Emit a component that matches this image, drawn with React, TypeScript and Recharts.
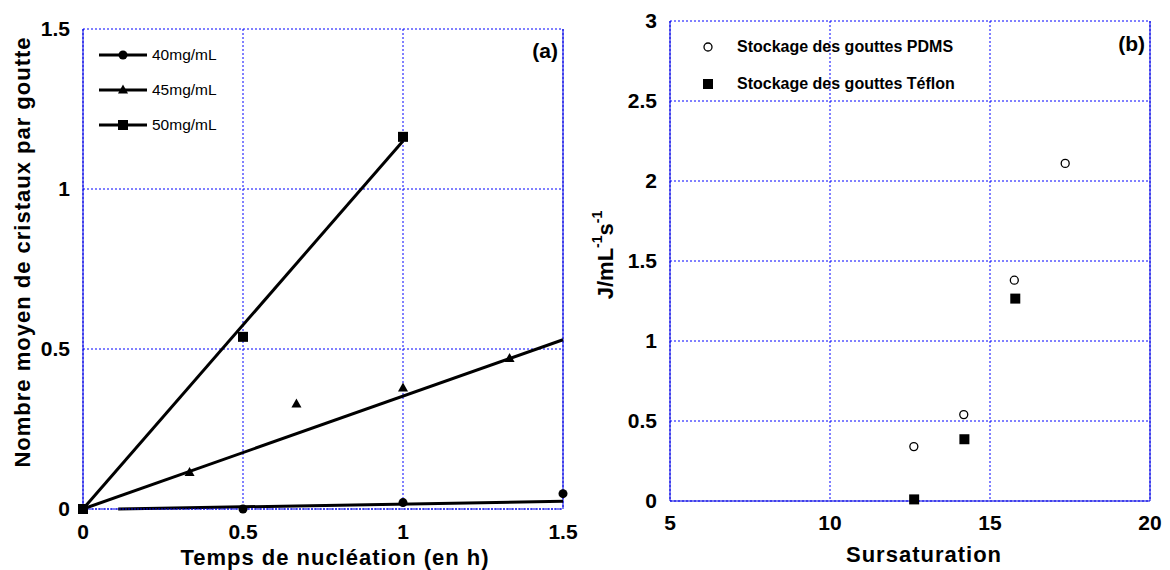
import React from 'react';
import {
  ComposedChart,
  ScatterChart,
  Scatter,
  Line,
  XAxis,
  YAxis,
  CartesianGrid,
  ReferenceLine,
  Legend,
  Label,
} from 'recharts';

const FONT = "Arial, 'Liberation Sans', Helvetica, sans-serif";
const GRID = '#0000ff';
const AXIS = '#0000dd';

// ---------- Panel (a) ----------
const timeTicks = [0, 0.5, 1, 1.5];
const countTicks = [0, 0.5, 1, 1.5];
const seriesNamesA = ['40mg/mL', '45mg/mL', '50mg/mL'];

const times40 = [0, 0.5, 1, 1.5];
const counts40 = [0, 0, 0.02, 0.048];
const times45 = [0, 0.333, 0.667, 1, 1.333];
const counts45 = [0, 0.114, 0.328, 0.378, 0.47];
const times50 = [0, 0.5, 1];
const counts50 = [0, 0.538, 1.163];

const fitTimes40 = [0.11, 1.5];
const fitCounts40 = [0, 0.024];
const fitTimes45 = [0, 1.5];
const fitCounts45 = [0, 0.529];
const fitTimes50 = [0, 1];
const fitCounts50 = [0, 1.15];

// ---------- Panel (b) ----------
const satTicks = [5, 10, 15, 20];
const rateTicks = [0, 0.5, 1, 1.5, 2, 2.5, 3];
const seriesNamesB = ['Stockage des gouttes PDMS', 'Stockage des gouttes Téflon'];

const satPDMS = [12.62, 14.18, 15.76, 17.35];
const ratePDMS = [0.34, 0.54, 1.38, 2.11];
const satTeflon = [12.63, 14.2, 15.79];
const rateTeflon = [0.01, 0.386, 1.265];

const zip = (xs: number[], ys: number[]) => xs.map((x, i) => ({ x, y: ys[i] }));

const pts40 = zip(times40, counts40);
const pts45 = zip(times45, counts45);
const pts50 = zip(times50, counts50);
const fit40 = zip(fitTimes40, fitCounts40);
const fit45 = zip(fitTimes45, fitCounts45);
const fit50 = zip(fitTimes50, fitCounts50);
const ptsPDMS = zip(satPDMS, ratePDMS);
const ptsTeflon = zip(satTeflon, rateTeflon);

// ---------- Marker renderers ----------
const drawCircle = (cx: number, cy: number) => <circle cx={cx} cy={cy} r={4.5} fill="#000" />;
const drawTriangle = (cx: number, cy: number) => (
  <polygon
    points={`${cx},${cy - 5.5} ${cx - 5},${cy + 3.5} ${cx + 5},${cy + 3.5}`}
    fill="#000"
  />
);
const drawSquare = (cx: number, cy: number) => (
  <rect x={cx - 5} y={cy - 5} width={10} height={10} fill="#000" />
);
const drawOpenCircle = (cx: number, cy: number) => (
  <circle cx={cx} cy={cy} r={4} fill="#fff" stroke="#000" strokeWidth={1.3} />
);

const markersA = [drawCircle, drawTriangle, drawSquare];
const markersB = [drawOpenCircle, drawSquare];

const shapeOf = (fn: (cx: number, cy: number) => React.ReactElement) => (props: any) =>
  fn(props.cx, props.cy);

// ---------- Legends ----------
const LegendA = () => (
  <div style={{ fontFamily: FONT, fontSize: 15.5, color: '#000' }}>
    {seriesNamesA.map((name, i) => (
      <div key={name} style={{ display: 'flex', alignItems: 'center', height: 35 }}>
        <svg width={48} height={14} style={{ display: 'block' }}>
          <line x1={0} y1={7} x2={48} y2={7} stroke="#000" strokeWidth={3} />
          {markersA[i](24, 7)}
        </svg>
        <span style={{ marginLeft: 5, whiteSpace: 'nowrap' }}>{name}</span>
      </div>
    ))}
  </div>
);

const LegendB = () => (
  <div style={{ fontFamily: FONT, fontSize: 16, fontWeight: 'bold', color: '#000' }}>
    {seriesNamesB.map((name, i) => (
      <div key={name} style={{ display: 'flex', alignItems: 'center', height: 37.6 }}>
        <svg width={16} height={14} style={{ display: 'block' }}>
          {markersB[i](8, 7)}
        </svg>
        <span style={{ marginLeft: 21, whiteSpace: 'nowrap' }}>{name}</span>
      </div>
    ))}
  </div>
);

// ---------- Axis titles ----------
const titleStyle = {
  fontFamily: FONT,
  fontSize: 22,
  fontWeight: 'bold' as const,
  fill: '#000',
};

const countTitle = (props: any) => {
  const vb = props.viewBox || { x: 0, y: 29, width: 83, height: 480 };
  const cx = vb.x + 22;
  const cy = vb.y + vb.height / 2 - 17;
  return (
    <text
      x={cx}
      y={cy}
      transform={`rotate(-90 ${cx} ${cy})`}
      textAnchor="middle"
      dominantBaseline="central"
      letterSpacing={1}
      {...titleStyle}
    >
      Nombre moyen de cristaux par goutte
    </text>
  );
};

const rateTitle = (props: any) => {
  const vb = props.viewBox || { x: 0, y: 21, width: 80, height: 480 };
  const cx = vb.x + 15;
  const cy = vb.y + vb.height / 2 - 6;
  return (
    <text
      x={cx}
      y={cy}
      transform={`rotate(-90 ${cx} ${cy})`}
      textAnchor="middle"
      dominantBaseline="central"
      {...titleStyle}
    >
      J/mL
      <tspan fontSize={14} dy={-8}>-1</tspan>
      <tspan fontSize={22} dy={8}>s</tspan>
      <tspan fontSize={14} dy={-8}>-1</tspan>
    </text>
  );
};

const tickStyle = { fontFamily: FONT, fontSize: 21, fontWeight: 'bold', fill: '#000' };

export default function App() {
  return (
    <div
      style={{
        position: 'absolute',
        left: 0,
        top: 0,
        width: 1170,
        height: 570,
        background: '#fff',
        fontFamily: FONT,
        overflow: 'hidden',
      }}
    >
      {/* Panel (a) */}
      <div style={{ position: 'absolute', left: 0, top: 0 }}>
        <ComposedChart
          width={590}
          height={570}
          margin={{ top: 29, right: 27, bottom: 0, left: 0 }}
        >
          <CartesianGrid stroke={GRID} strokeDasharray="2 2" strokeWidth={1} />
          <XAxis
            type="number"
            dataKey="x"
            domain={[0, 1.5]}
            ticks={timeTicks}
            height={61}
            tickLine={false}
            tickSize={0}
            tickMargin={15}
            axisLine={{ stroke: AXIS, strokeDasharray: '2 1' }}
            tick={tickStyle}
          >
            <Label
              value="Temps de nucléation (en h)"
              position="insideBottom"
              offset={5}
              dx={12}
              letterSpacing={1}
              style={titleStyle}
            />
          </XAxis>
          <YAxis
            type="number"
            dataKey="y"
            domain={[0, 1.5]}
            ticks={countTicks}
            width={83}
            tickLine={false}
            tickSize={0}
            tickMargin={13}
            axisLine={{ stroke: AXIS }}
            tick={tickStyle}
          >
            <Label content={countTitle} />
          </YAxis>
          <ReferenceLine x={1.5} stroke={AXIS} strokeWidth={1} />
          <Line data={fit40} dataKey="y" type="linear" stroke="#000" strokeWidth={3} dot={false} activeDot={false} isAnimationActive={false} legendType="none" />
          <Line data={fit45} dataKey="y" type="linear" stroke="#000" strokeWidth={3} dot={false} activeDot={false} isAnimationActive={false} legendType="none" />
          <Line data={fit50} dataKey="y" type="linear" stroke="#000" strokeWidth={3} dot={false} activeDot={false} isAnimationActive={false} legendType="none" />
          <Scatter name={seriesNamesA[0]} data={pts40} dataKey="y" shape={shapeOf(drawCircle)} isAnimationActive={false} />
          <Scatter name={seriesNamesA[1]} data={pts45} dataKey="y" shape={shapeOf(drawTriangle)} isAnimationActive={false} />
          <Scatter name={seriesNamesA[2]} data={pts50} dataKey="y" shape={shapeOf(drawSquare)} isAnimationActive={false} />
          <Legend
            layout="vertical"
            align="center"
            verticalAlign="middle"
            content={() => <LegendA />}
            wrapperStyle={{ left: 99, top: 37, width: 200, height: 105 }}
          />
        </ComposedChart>
      </div>

      {/* Panel (b) */}
      <div style={{ position: 'absolute', left: 590, top: 0 }}>
        <ScatterChart
          width={580}
          height={570}
          margin={{ top: 21, right: 20, bottom: 0, left: 0 }}
        >
          <CartesianGrid stroke={GRID} strokeDasharray="2 2" strokeWidth={1} />
          <XAxis
            type="number"
            dataKey="x"
            domain={[5, 20]}
            ticks={satTicks}
            height={69}
            tickLine={false}
            tickSize={0}
            tickMargin={14}
            axisLine={{ stroke: AXIS }}
            tick={tickStyle}
          >
            <Label
              value="Sursaturation"
              position="insideBottom"
              offset={8}
              dx={14}
              letterSpacing={1}
              style={titleStyle}
            />
          </XAxis>
          <YAxis
            type="number"
            dataKey="y"
            domain={[0, 3]}
            ticks={rateTicks}
            width={80}
            tickLine={false}
            tickSize={0}
            tickMargin={13}
            axisLine={{ stroke: AXIS }}
            tick={tickStyle}
          >
            <Label content={rateTitle} />
          </YAxis>
          <ReferenceLine x={20} stroke={AXIS} strokeWidth={1} />
          <Scatter name={seriesNamesB[0]} data={ptsPDMS} dataKey="y" shape={shapeOf(drawOpenCircle)} isAnimationActive={false} />
          <Scatter name={seriesNamesB[1]} data={ptsTeflon} dataKey="y" shape={shapeOf(drawSquare)} isAnimationActive={false} />
          <Legend
            layout="vertical"
            align="center"
            verticalAlign="middle"
            content={() => <LegendB />}
            wrapperStyle={{ left: 110, top: 28, width: 300, height: 76 }}
          />
        </ScatterChart>
      </div>

      {/* Panel labels */}
      <div
        style={{
          position: 'absolute',
          left: 498,
          top: 39,
          width: 60,
          textAlign: 'right',
          fontSize: 21,
          lineHeight: '24px',
          fontWeight: 'bold',
          color: '#000',
        }}
      >
        (a)
      </div>
      <div
        style={{
          position: 'absolute',
          left: 1085,
          top: 32,
          width: 60,
          textAlign: 'right',
          fontSize: 21,
          lineHeight: '24px',
          fontWeight: 'bold',
          color: '#000',
        }}
      >
        (b)
      </div>
    </div>
  );
}
